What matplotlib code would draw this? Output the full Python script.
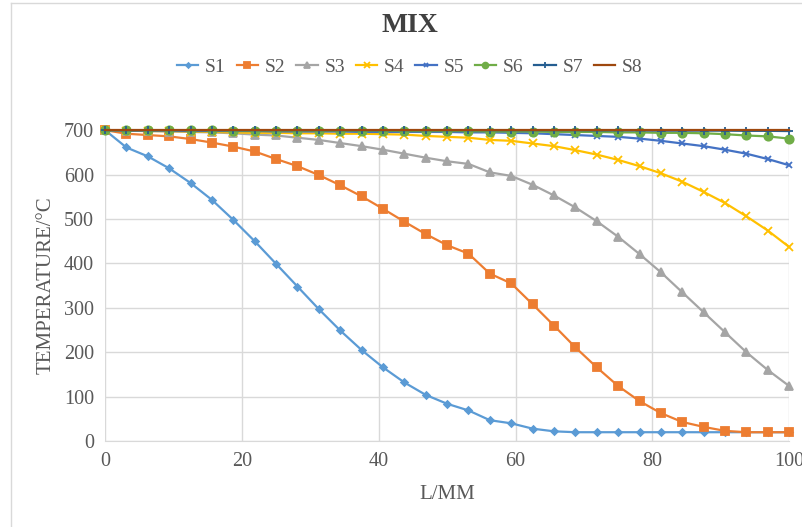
import matplotlib.pyplot as plt
from matplotlib.lines import Line2D

# position along the sample, mm
x_mm = [0, 3.125, 6.25, 9.375, 12.5, 15.625, 18.75, 21.875, 25, 28.125, 31.25,
        34.375, 37.5, 40.625, 43.75, 46.875, 50, 53.125, 56.25, 59.375, 62.5,
        65.625, 68.75, 71.875, 75, 78.125, 81.25, 84.375, 87.5, 90.625, 93.75,
        96.875, 100]

s1 = [700, 661, 641, 614, 581, 543, 498, 450, 399, 348, 297, 249, 205, 166, 132,
      104, 84, 69, 47, 40, 28, 22, 20, 20, 20, 20, 20, 20, 20, 20, 20, 20, 20]
s2 = [700, 692, 689, 686, 680, 672, 663, 652, 635, 619, 599, 576, 551, 523, 494,
      466, 441, 422, 377, 355, 308, 260, 211, 166, 124, 90, 63, 43, 32, 23, 20, 20, 20]
s3 = [700, 699, 698, 697, 696, 695, 693, 690, 688, 683, 678, 671, 664, 656, 647,
      638, 630, 624, 605, 597, 577, 553, 526, 495, 460, 421, 380, 335, 290, 245,
      200, 160, 124]
s4 = [700, 699, 698, 698, 697, 696, 695, 694, 694, 693, 693, 692, 692, 691, 690,
      687, 685, 683, 678, 676, 670, 664, 655, 645, 633, 619, 603, 584, 561, 536,
      506, 474, 437]
s5 = [700, 699, 699, 699, 698, 698, 698, 698, 697, 697, 697, 697, 696, 696, 696,
      696, 696, 695, 695, 694, 693, 691, 689, 687, 685, 681, 676, 670, 664, 656,
      647, 635, 621]
s6 = [700, 700, 700, 700, 700, 700, 699, 699, 699, 699, 699, 699, 699, 699, 698,
      698, 698, 698, 697, 697, 697, 696, 696, 696, 695, 695, 694, 694, 693, 691,
      688, 686, 681]
s7 = [700, 700, 700, 700, 700, 700, 700, 700, 700, 700, 700, 700, 700, 700, 700,
      700, 700, 700, 700, 700, 700, 700, 700, 699.5, 699.5, 699.5, 699, 699, 699,
      699, 698.5, 698.5, 698]
s8 = [700] * 33

labels = ["S1", "S2", "S3", "S4", "S5", "S6", "S7", "S8"]
colors = ["#5B9BD5", "#ED7D31", "#A5A5A5", "#FFC000", "#4472C4", "#70AD47",
          "#255E91", "#9E480E"]
markers = ["D", "s", "^", "x", "x", "o", "+", None]
msizes = [3.5, 6, 5.5, 5.5, 5, 6, 6, 0]

plt.rcParams["font.family"] = ["Liberation Serif", "DejaVu Serif"]
TXT = "#595959"

fig = plt.figure(figsize=(8.02, 5.27), dpi=100)
ax = fig.add_axes([0.131, 0.163, 0.853, 0.590])

series = [s1, s2, s3, s4, s5, s6, s7, s8]
for ys, lab, c, m, ms in zip(series, labels, colors, markers, msizes):
    ax.plot(x_mm, ys, color=c, lw=1.6, marker=m, markersize=ms,
            markeredgewidth=1.3, label=lab, clip_on=False, zorder=3)

ax.set_xlim(0, 100)
ax.set_ylim(0, 700)
ax.set_xticks([0, 20, 40, 60, 80, 100])
ax.set_yticks(range(0, 701, 100))
ax.grid(True, color="#D9D9D9", lw=1)
ax.set_axisbelow(True)
for side in ["top", "right", "left"]:
    ax.spines[side].set_visible(False)
ax.spines["bottom"].set_color("#D9D9D9")
ax.tick_params(length=0, labelsize=14.5, labelcolor=TXT, pad=8)

ax.set_xlabel("L/MM", fontsize=15, color=TXT, labelpad=10)
ax.set_ylabel("TEMPERATURE/°C", fontsize=15, color=TXT, labelpad=6)

fig.text(0.511, 1 - 25 / 527, "MIX", ha="center", va="center",
         fontsize=20, fontweight="bold", color="#404040")

ax.legend(loc="center", bbox_to_anchor=(0.511, 1 - 67 / 527),
          bbox_transform=fig.transFigure, ncol=8, frameon=False,
          fontsize=14, handlelength=1.1, columnspacing=0.55, handletextpad=0.35,
          labelcolor=TXT, markerscale=0.7)

# chart area border from the source screenshot
fig.add_artist(Line2D([11 / 802, 11 / 802], [0, 1 - 3 / 527],
                      transform=fig.transFigure, color="#D9D9D9", lw=1))
fig.add_artist(Line2D([11 / 802, 1], [1 - 3 / 527, 1 - 3 / 527],
                      transform=fig.transFigure, color="#D9D9D9", lw=1))

fig.savefig("out.png", dpi=100)
